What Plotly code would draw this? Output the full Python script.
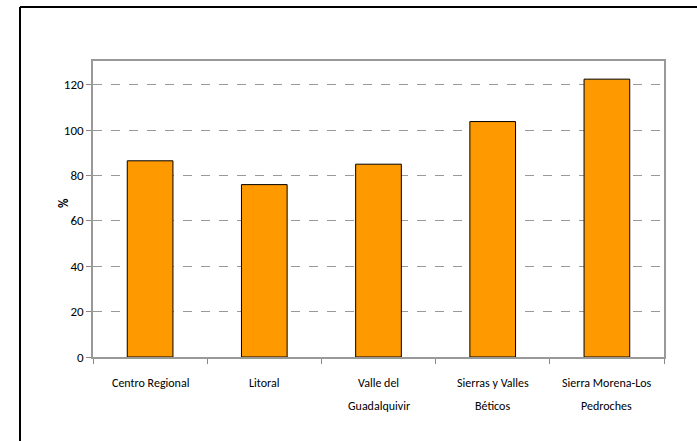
import plotly.graph_objects as go

categories = ["Centro Regional", "Litoral", "Valle del Guadalquivir",
              "Sierras y Valles Béticos", "Sierra Morena-Los Pedroches"]
label_lines = [["Centro Regional"], ["Litoral"], ["Valle del", "Guadalquivir"],
               ["Sierras y Valles", "Béticos"], ["Sierra Morena-Los", "Pedroches"]]
values = [86.5, 76.0, 85.0, 103.8, 122.5]
y_ticks = [0, 20, 40, 60, 80, 100, 120]
y_title = "%"

FONT = "Carlito, Lato, Open Sans, sans-serif"

fig = go.Figure()
fig.add_trace(go.Bar(
    x=categories, y=values,
    marker=dict(color="#FF9900", line=dict(color="#000000", width=1)),
    width=0.4,
))

# plot area: left 93, right 664, top 61, bottom 357 px
W, H = 697, 441
L, R, T, B = 93, 33, 61, 84
pw, ph = W - L - R, H - T - B

annotations = []
for cat, lines in zip(categories, label_lines):
    for i, line in enumerate(lines):
        ypx = 383 + 23 * i
        annotations.append(dict(
            x=cat, xref="x", y=(H - B - ypx) / ph, yref="paper",
            text=line, showarrow=False, xanchor="center", yanchor="middle",
            font=dict(family=FONT, size=12, color="#000000"),
        ))
annotations.append(dict(
    x=(63 - L) / pw, xref="paper", y=(H - B - 203) / ph, yref="paper",
    text="<b>" + y_title + "</b>", textangle=-90, showarrow=False,
    xanchor="center", yanchor="middle",
    font=dict(family=FONT, size=13, color="#000000"),
))

shapes = [
    # outer chart frame (left & top visible)
    dict(type="line", xref="paper", yref="paper",
         x0=(20 - L) / pw, x1=(20 - L) / pw, y0=(H - B - 7) / ph, y1=(H - B - 445) / ph,
         line=dict(color="#000000", width=2)),
    dict(type="line", xref="paper", yref="paper",
         x0=(20 - L) / pw, x1=(700 - L) / pw, y0=(H - B - 7) / ph, y1=(H - B - 7) / ph,
         line=dict(color="#000000", width=2)),
]

fig.update_layout(
    width=W, height=H,
    margin=dict(l=L, r=R, t=T, b=B, pad=0),
    paper_bgcolor="white", plot_bgcolor="white",
    showlegend=False,
    bargap=0.6,
    annotations=annotations,
    shapes=shapes,
    xaxis=dict(
        showticklabels=False, ticks="outside", tickson="boundaries", ticklen=5,
        tickcolor="#888888", showline=True, linecolor="#999999", linewidth=1.5,
        mirror=True, showgrid=False,
    ),
    yaxis=dict(
        range=[0, 130.5], tickvals=y_ticks, ticks="outside", ticklen=5,
        tickcolor="#888888", showline=True, linecolor="#999999", linewidth=1.5,
        mirror=True, showgrid=True, gridcolor="#999999", griddash="dash",
        gridwidth=1, zeroline=False,
        tickfont=dict(family=FONT, size=13, color="#000000"),
    ),
)

fig.write_html("out.html", config={"displayModeBar": False},
               post_script="document.body.style.margin='0px';document.body.style.overflow='hidden';")
